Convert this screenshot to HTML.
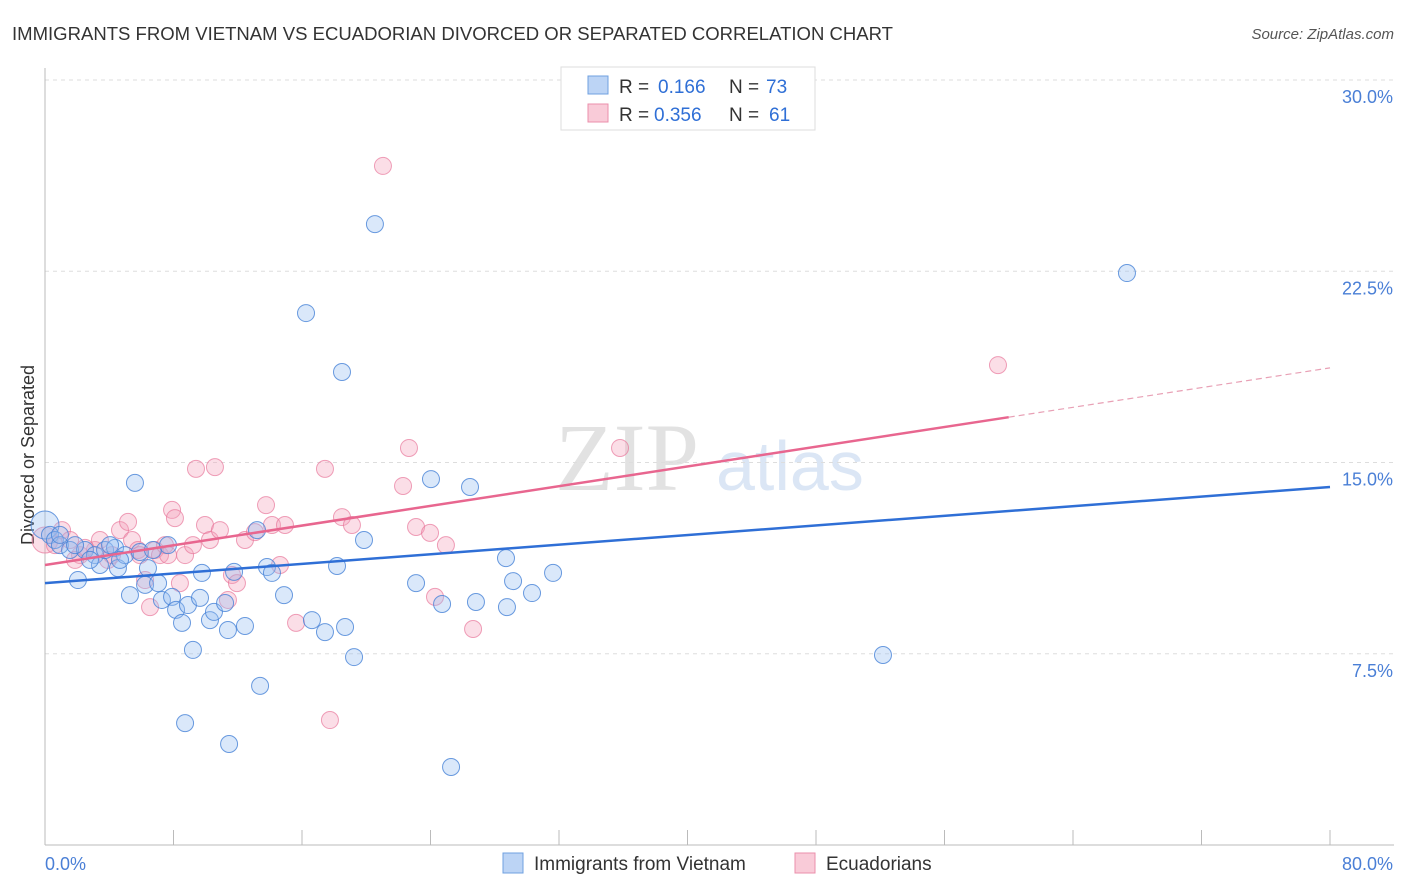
<!DOCTYPE html>
<html><head><meta charset="utf-8"><style>
body{margin:0;background:#fff;font-family:"Liberation Sans",sans-serif;}
</style></head><body>
<svg id="chart" width="1406" height="892" style="display:block">
<text x="12" y="40" font-size="18" fill="#333" textLength="881" lengthAdjust="spacingAndGlyphs">IMMIGRANTS FROM VIETNAM VS ECUADORIAN DIVORCED OR SEPARATED CORRELATION CHART</text>
<text x="1394" y="39" font-size="15" fill="#555" font-style="italic" text-anchor="end">Source: ZipAtlas.com</text>
<text x="555" y="490" font-size="96" fill="#e2e2e2" font-family="Liberation Serif,serif">ZIP</text>
<text x="716" y="490" font-size="70" fill="#dbe6f5">atlas</text>
<text transform="translate(34,455) rotate(-90)" font-size="18" fill="#333" text-anchor="middle">Divorced or Separated</text>
<g id="grid"></g><g id="pts"></g><g id="trend"></g>
<g>
<rect x="561" y="67" width="254" height="63" fill="#fff" stroke="#ddd"/>
<rect x="588" y="76" width="20" height="18" fill="#bcd4f5" stroke="#6fa0e0"/>
<rect x="588" y="104" width="20" height="18" fill="#f9cbd8" stroke="#eb8fab"/>
<text x="619" y="93" font-size="19" fill="#333">R =</text>
<text x="658" y="93" font-size="19" fill="#2f6fd6">0.166</text>
<text x="729" y="93" font-size="19" fill="#333">N =</text>
<text x="766" y="93" font-size="19" fill="#2f6fd6">73</text>
<text x="619" y="121" font-size="19" fill="#333">R =</text>
<text x="654" y="121" font-size="19" fill="#2f6fd6">0.356</text>
<text x="729" y="121" font-size="19" fill="#333">N =</text>
<text x="769" y="121" font-size="19" fill="#2f6fd6">61</text>
</g>
<g>
<rect x="503" y="853" width="20" height="20" fill="#bcd4f5" stroke="#6fa0e0"/>
<text x="534" y="870" font-size="19" fill="#333">Immigrants from Vietnam</text>
<rect x="795" y="853" width="20" height="20" fill="#f9cbd8" stroke="#eb8fab"/>
<text x="826" y="870" font-size="19" fill="#333">Ecuadorians</text>
</g>
</svg>
<script>
const yTicks=[30,22.5,15,7.5];
const yTickLabels=["30.0%","22.5%","15.0%","7.5%"];
const xTickVals=[0,8,16,24,32,40,48,56,64,72,80];
const xEndLabels=["0.0%","80.0%"];
const bluePx=[[45,525],[50,535],[55,540],[60,545],[70,550],[78,580],[85,550],[95,555],[100,565],[105,550],[115,548],[118,568],[125,555],[130,595],[135,483],[140,552],[145,585],[148,568],[153,550],[158,583],[162,600],[168,545],[172,597],[176,610],[182,623],[188,605],[193,650],[185,723],[200,598],[202,573],[210,620],[214,612],[225,603],[228,630],[229,744],[234,572],[245,626],[257,530],[260,686],[267,567],[272,573],[284,595],[306,313],[312,620],[325,632],[337,566],[342,372],[345,627],[354,657],[364,540],[375,224],[416,583],[431,479],[442,604],[451,767],[470,487],[476,602],[506,558],[507,607],[513,581],[532,593],[553,573],[883,655],[1127,273],[60,535],[75,545],[90,560],[110,545],[120,560]];
const pinkPx=[[45,540],[55,545],[62,530],[70,540],[80,555],[95,550],[108,560],[120,530],[128,522],[132,540],[138,550],[145,580],[150,607],[155,550],[160,555],[165,545],[172,510],[175,518],[180,583],[185,555],[193,545],[196,469],[205,525],[210,540],[215,467],[220,530],[228,600],[232,575],[237,583],[245,540],[255,532],[266,505],[272,525],[280,565],[285,525],[296,623],[325,469],[330,720],[342,517],[352,525],[403,486],[409,448],[416,527],[430,533],[435,597],[446,545],[473,629],[383,166],[620,448],[998,365],[100,540],[112,555],[140,555],[168,555],[75,560],[85,548]];
const blueX=bluePx.map(p=>+((p[0]-45)/16.0625).toFixed(2));
const blueY=bluePx.map(p=>+((845-p[1])/25.5).toFixed(2));
const pinkX=pinkPx.map(p=>+((p[0]-45)/16.0625).toFixed(2));
const pinkY=pinkPx.map(p=>+((845-p[1])/25.5).toFixed(2));
const blueTrend=[10.27,14.04];
const pinkTrend=[10.98,18.71];
const pinkSolidEnd=60;
const NS='http://www.w3.org/2000/svg';
const X=v=>45+v*16.0625, Y=v=>845-v*25.5;
function mk(t,a,parent){const e=document.createElementNS(NS,t);for(const k in a)e.setAttribute(k,a[k]);parent.appendChild(e);return e;}
const grid=document.getElementById('grid');
yTicks.forEach((v,i)=>{
 const l=mk('line',{x1:45,x2:1394,y1:Y(v),y2:Y(v),stroke:'#ddd','stroke-dasharray':'4,4'},grid);
 
 
 const t=mk('text',{x:1393,y:Y(v)+23,'font-size':18,fill:'#4a7fd6','text-anchor':'end'},grid);
 t.textContent=yTickLabels[i];
 
 
});
mk('line',{x1:45,x2:45,y1:68,y2:845,stroke:'#bbb'},grid);
mk('line',{x1:45,x2:1394,y1:845,y2:845,stroke:'#bbb'},grid);
xTickVals.forEach(v=>{
 const l=mk('line',{x1:X(v),x2:X(v),y1:830,y2:845,stroke:'#bbb'},grid);
 
 
});
const t0=mk('text',{x:45,y:870,'font-size':18,fill:'#4a7fd6'},grid);t0.textContent=xEndLabels[0];


const t1=mk('text',{x:1393,y:870,'font-size':18,fill:'#4a7fd6','text-anchor':'end'},grid);t1.textContent=xEndLabels[1];


const pts=document.getElementById('pts');
pinkX.forEach((x,i)=>{const c=mk('circle',{cx:X(x),cy:Y(pinkY[i]),r:i==0?13:8.5,fill:'rgba(244,160,185,0.35)',stroke:'rgba(232,120,155,0.7)','stroke-width':1},pts);
 
 });
blueX.forEach((x,i)=>{const c=mk('circle',{cx:X(x),cy:Y(blueY[i]),r:i==0?14:8.5,fill:'rgba(150,190,240,0.35)',stroke:'rgba(70,130,215,0.8)','stroke-width':1},pts);
 
 });
const tr=document.getElementById('trend');
const bl=mk('line',{x1:X(0),y1:Y(blueTrend[0]),x2:X(80),y2:Y(blueTrend[1]),stroke:'#2f6fd6','stroke-width':2.5},tr);


const pm=pinkTrend[0]+(pinkTrend[1]-pinkTrend[0])*pinkSolidEnd/80;
const pl=mk('line',{x1:X(0),y1:Y(pinkTrend[0]),x2:X(pinkSolidEnd),y2:Y(pm),stroke:'#e8668f','stroke-width':2.5},tr);


const pd=mk('line',{x1:X(pinkSolidEnd),y1:Y(pm),x2:X(80),y2:Y(pinkTrend[1]),stroke:'#e8a0b5','stroke-width':1.2,'stroke-dasharray':'6,4'},tr);


</script>
</body></html>
